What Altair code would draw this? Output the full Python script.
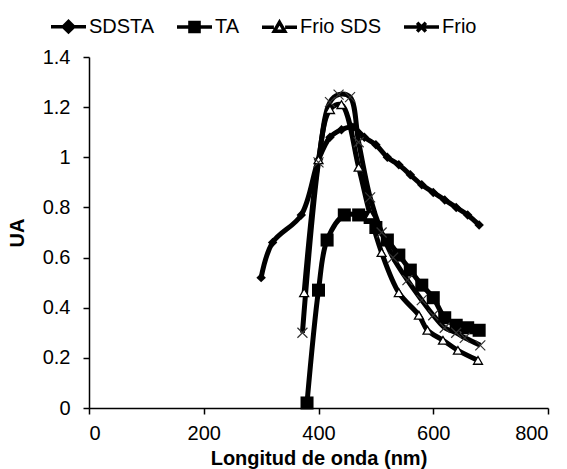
import altair as alt
import pandas as pd

# ---- data ----
sdsta_x = [300, 320, 370, 400, 420, 440, 460, 480, 500, 520, 540, 560, 580, 600, 620, 640, 660, 680]
sdsta_y = [0.52, 0.66, 0.77, 0.99, 1.08, 1.11, 1.12, 1.08, 1.05, 1.00, 0.97, 0.93, 0.89, 0.86, 0.83, 0.80, 0.77, 0.73]

ta_x = [380, 400, 415, 445, 470, 490, 500, 520, 540, 560, 580, 600, 620, 640, 660, 680]
ta_y = [0.02, 0.47, 0.67, 0.77, 0.77, 0.76, 0.72, 0.67, 0.61, 0.55, 0.49, 0.44, 0.36, 0.33, 0.32, 0.31]

friosds_x = [375, 400, 420, 440, 470, 490, 510, 540, 575, 590, 617, 643, 678]
friosds_y = [0.46, 0.99, 1.19, 1.21, 0.96, 0.77, 0.62, 0.46, 0.37, 0.31, 0.27, 0.23, 0.19]

frio_x = [372, 400, 420, 435, 455, 470, 490, 510, 530, 555, 580, 600, 620, 640, 655, 682]
frio_y = [0.30, 0.98, 1.22, 1.25, 1.24, 1.06, 0.84, 0.70, 0.60, 0.51, 0.43, 0.37, 0.32, 0.30, 0.28, 0.25]

series = ["SDSTA", "TA", "Frio SDS", "Frio"]

rows = []
for name, xs, ys in [("SDSTA", sdsta_x, sdsta_y), ("TA", ta_x, ta_y),
                     ("Frio SDS", friosds_x, friosds_y), ("Frio", frio_x, frio_y)]:
    for x, y in zip(xs, ys):
        rows.append({"series": name, "x": x, "y": y})
df = pd.DataFrame(rows)

FONT = "Liberation Sans"

xenc = alt.X("x:Q", scale=alt.Scale(domain=[0, 800]),
             axis=alt.Axis(values=[0, 200, 400, 600, 800], title="Longitud de onda (nm)"))
yenc = alt.Y("y:Q", scale=alt.Scale(domain=[0, 1.4]),
             axis=alt.Axis(values=[0, 0.2, 0.4, 0.6, 0.8, 1.0, 1.2, 1.4], format=".1~f", title="UA"))

base = alt.Chart(df)

lines = base.mark_line(color="black", strokeWidth=5, interpolate="catmull-rom").encode(
    x=xenc, y=yenc, detail="series:N")

def pts(name, **kw):
    return base.transform_filter(alt.datum.series == name).mark_point(**kw).encode(x=xenc, y=yenc)

p_sdsta = pts("SDSTA", shape="diamond", filled=True, fill="black", size=90, opacity=1)
p_ta = pts("TA", shape="square", filled=True, fill="black", size=170, opacity=1)
p_fsds = pts("Frio SDS", shape="triangle-up", filled=True, fill="white", stroke="black",
             strokeWidth=1.3, size=80, opacity=1)
p_frio = pts("Frio", shape="M-1,-1L1,1M-1,1L1,-1", stroke="#333", strokeWidth=1.2, size=100, opacity=1)

leg_shapes = [
    "M-1,0L-0.3,0M0.3,0L1,0M0,-0.3L0.3,0L0,0.3L-0.3,0Z",
    "M-1,0L-0.3,0M0.3,0L1,0M-0.26,-0.26L0.26,-0.26L0.26,0.26L-0.26,0.26Z",
    "M-1,0L-0.32,0M0.32,0L1,0M0,-0.28L0.3,0.24L-0.3,0.24Z",
    "M-1,0L1,0M-0.25,-0.25L0.25,0.25M-0.25,0.25L0.25,-0.25",
]
leg_fill = ["black", "black", "white", "black"]
leg_stroke = ["black", "black", "black", "black"]

def leg(**kw):
    return alt.Legend(title=None, orient="none", direction="horizontal",
                      legendX=-40, legendY=-50, **kw)

legend_layer = base.mark_point(filled=True, opacity=0, size=1225, strokeWidth=3.5).encode(
    x=xenc, y=yenc,
    shape=alt.Shape("series:N", scale=alt.Scale(domain=series, range=leg_shapes),
                    legend=leg(symbolOpacity=1, symbolStrokeWidth=3.5,
                               symbolSize=1225, labelFont=FONT, labelFontSize=20,
                               labelColor="black", labelOffset=1, columnPadding=15)),
    fill=alt.Fill("series:N", scale=alt.Scale(domain=series, range=leg_fill), legend=leg()),
    stroke=alt.Stroke("series:N", scale=alt.Scale(domain=series, range=leg_stroke), legend=leg()),
)

chart = alt.layer(lines, p_sdsta, p_ta, p_fsds, p_frio, legend_layer).properties(
    width=459, height=351,
    autosize=alt.AutoSizeParams(type="none"),
    padding={"left": 89, "top": 57, "right": 19, "bottom": 61},
).configure_view(stroke=None).configure_axis(
    grid=False, domainColor="black", domainWidth=1.5, tickColor="black", tickWidth=1.5,
    tickSize=6, labelFont=FONT, labelFontSize=20, labelColor="black",
    titleFont=FONT, titleFontSize=20, titleFontWeight="bold", titleColor="black",
).configure_axisX(labelPadding=9, titlePadding=5).configure_axisY(labelPadding=13, titlePadding=15)

chart.save("out.html", embed_options={"renderer": "svg", "actions": False})
